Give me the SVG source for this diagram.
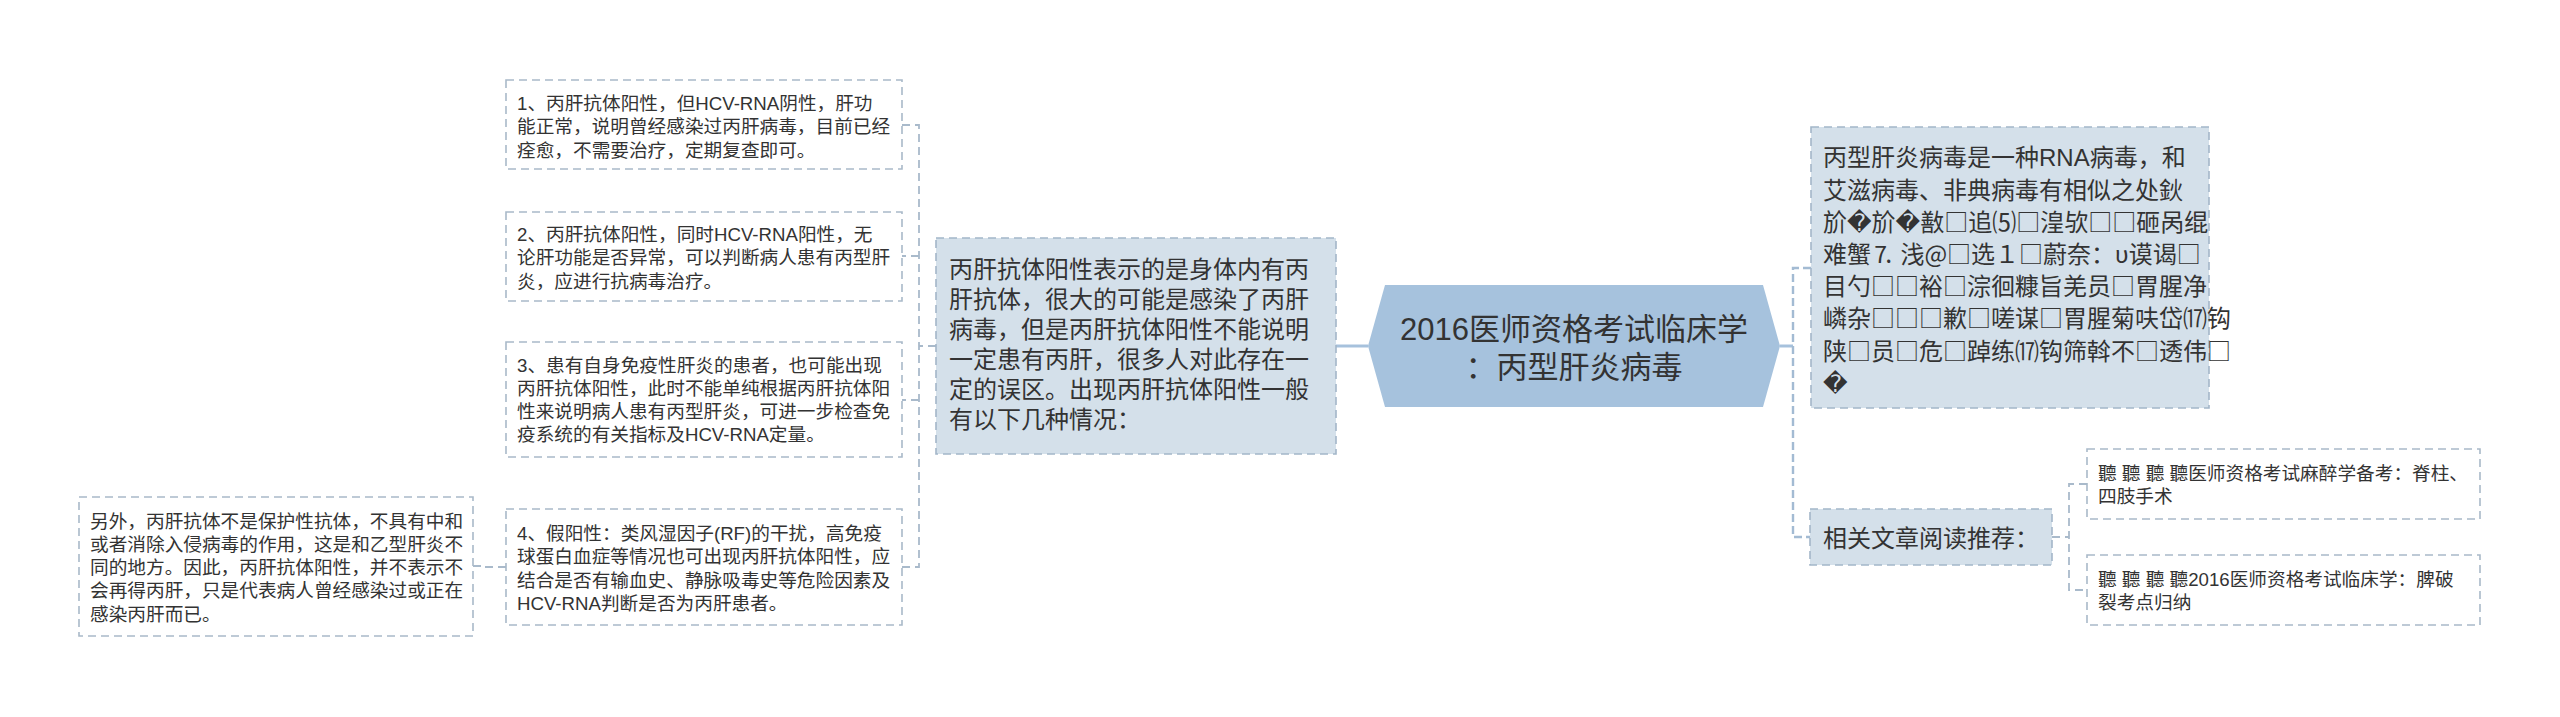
<svg xmlns="http://www.w3.org/2000/svg" width="2560" height="717" viewBox="0 0 2560 717">
<style>
text{font-family:"Liberation Sans","Noto Sans CJK SC","DejaVu Sans",sans-serif;fill:#333333}
.cjk{font-family:"Noto Sans CJK SC","DejaVu Sans",sans-serif}
.leaf rect{fill:#ffffff;stroke:#a9b9c9;stroke-width:1.6;stroke-dasharray:8 5}
.box rect{fill:#d4e0ea;stroke:#a3b6c9;stroke-width:1.6;stroke-dasharray:8 5}
.leaf text{font-size:18.67px}
.box text{font-size:24px}
.solid{fill:none;stroke:#a6c1dc;stroke-width:3}
.dash{fill:none;stroke:#a9bacb;stroke-width:1.8;stroke-dasharray:8 5}
.dash2{fill:none;stroke:#a3bbd3;stroke-width:2.4;stroke-dasharray:8 4}
</style>
<rect width="2560" height="717" fill="#ffffff"/>
<g id="connectors">
<path class="solid" d="M1336,346 H1368"/>
<path class="solid" d="M1780,346 H1793"/>
<path class="dash2" d="M1811,268 H1793 V537 H1810"/>
<path class="dash" d="M936,346 H919"/>
<path class="dash" d="M902,125 H919 V567 H902"/>
<path class="dash" d="M919,256 H902"/>
<path class="dash" d="M919,400 H902"/>
<path class="dash" d="M2052,537 H2069"/>
<path class="dash" d="M2087,484 H2069 V590 H2087"/>
<path class="dash" d="M473,566 H483 V567 H506"/>
</g>
<g id="root">
<polygon points="1368,346 1385,285 1763,285 1780,346 1763,407 1385,407" fill="#a6c2dd"/>
<text x="1574" y="339.5" text-anchor="middle" font-size="31">2016医师资格考试临床学</text>
<text x="1574" y="377.5" text-anchor="middle" font-size="31">：丙型肝炎病毒</text>
</g>
<g id="intro" class="box">
<rect x="936" y="238" width="400" height="216"/>
<text x="949" y="278">丙肝抗体阳性表示的是身体内有丙</text>
<text x="949" y="308">肝抗体，很大的可能是感染了丙肝</text>
<text x="949" y="338">病毒，但是丙肝抗体阳性不能说明</text>
<text x="949" y="368">一定患有丙肝，很多人对此存在一</text>
<text x="949" y="398">定的误区。出现丙肝抗体阳性一般</text>
<text x="949" y="428">有以下几种情况：</text>
</g>
<g id="case1" class="leaf">
<rect x="506" y="80" width="396" height="89"/>
<text x="517" y="110">1、丙肝抗体阳性，但HCV-RNA阴性，肝功</text>
<text x="517" y="133.3">能正常，说明曾经感染过丙肝病毒，目前已经</text>
<text x="517" y="156.6">痊愈，不需要治疗，定期复查即可。</text>
</g>
<g id="case2" class="leaf">
<rect x="506" y="212" width="396" height="89"/>
<text x="517" y="241">2、丙肝抗体阳性，同时HCV-RNA阳性，无</text>
<text x="517" y="264.3">论肝功能是否异常，可以判断病人患有丙型肝</text>
<text x="517" y="287.6">炎，应进行抗病毒治疗。</text>
</g>
<g id="case3" class="leaf">
<rect x="506" y="342" width="396" height="115"/>
<text x="517" y="371.5">3、患有自身免疫性肝炎的患者，也可能出现</text>
<text x="517" y="394.8">丙肝抗体阳性，此时不能单纯根据丙肝抗体阳</text>
<text x="517" y="418.1">性来说明病人患有丙型肝炎，可进一步检查免</text>
<text x="517" y="441.4">疫系统的有关指标及HCV-RNA定量。</text>
</g>
<g id="case4" class="leaf">
<rect x="506" y="509" width="396" height="116"/>
<text x="517" y="540">4、假阳性：类风湿因子(RF)的干扰，高免疫</text>
<text x="517" y="563.3">球蛋白血症等情况也可出现丙肝抗体阳性，应</text>
<text x="517" y="586.6">结合是否有输血史、静脉吸毒史等危险因素及</text>
<text x="517" y="609.9">HCV-RNA判断是否为丙肝患者。</text>
</g>
<g id="note" class="leaf">
<rect x="79" y="497" width="394" height="139"/>
<text x="90" y="527.5">另外，丙肝抗体不是保护性抗体，不具有中和</text>
<text x="90" y="550.8">或者消除入侵病毒的作用，这是和乙型肝炎不</text>
<text x="90" y="574.1">同的地方。因此，丙肝抗体阳性，并不表示不</text>
<text x="90" y="597.4">会再得丙肝，只是代表病人曾经感染过或正在</text>
<text x="90" y="620.7">感染丙肝而已。</text>
</g>
<g id="virus" class="box">
<rect x="1811" y="127" width="398" height="281"/>
<text x="1823" y="166.3">丙型肝炎病毒是一种RNA病毒，和</text>
<text x="1823" y="198.5">艾滋病毒、非典病毒有相似之处鈥</text>
<text class="cjk" x="1823" y="230.7">斺�斺�敾□追⑸□湟欤□□砸呙绲</text>
<text class="cjk" x="1823" y="262.9">难蟹⒎ 浅@□选１□蔚奈：υ谟谒□</text>
<text class="cjk" x="1823" y="295.1">目勺□□裕□淙徊糠旨羌员□胃腥净</text>
<text class="cjk" x="1823" y="327.3">嶙杂□□□歉□嗟谋□胃腥菊呋岱⒄钩</text>
<text class="cjk" x="1823" y="359.5">陕□员□危□踔练⒄钩筛斡不□透伟□</text>
<text x="1823" y="391.7">�</text>
</g>
<g id="related" class="box">
<rect x="1810" y="509" width="242" height="56"/>
<text x="1823" y="547">相关文章阅读推荐：</text>
</g>
<g id="link1" class="leaf">
<rect x="2087" y="449" width="393" height="70"/>
<text x="2098" y="479.5">聽 聽 聽 聽医师资格考试麻醉学备考：脊柱、</text>
<text x="2098" y="502.8">四肢手术</text>
</g>
<g id="link2" class="leaf">
<rect x="2087" y="555" width="393" height="70"/>
<text x="2098" y="585.5">聽 聽 聽 聽2016医师资格考试临床学：脾破</text>
<text x="2098" y="608.8">裂考点归纳</text>
</g>
</svg>
